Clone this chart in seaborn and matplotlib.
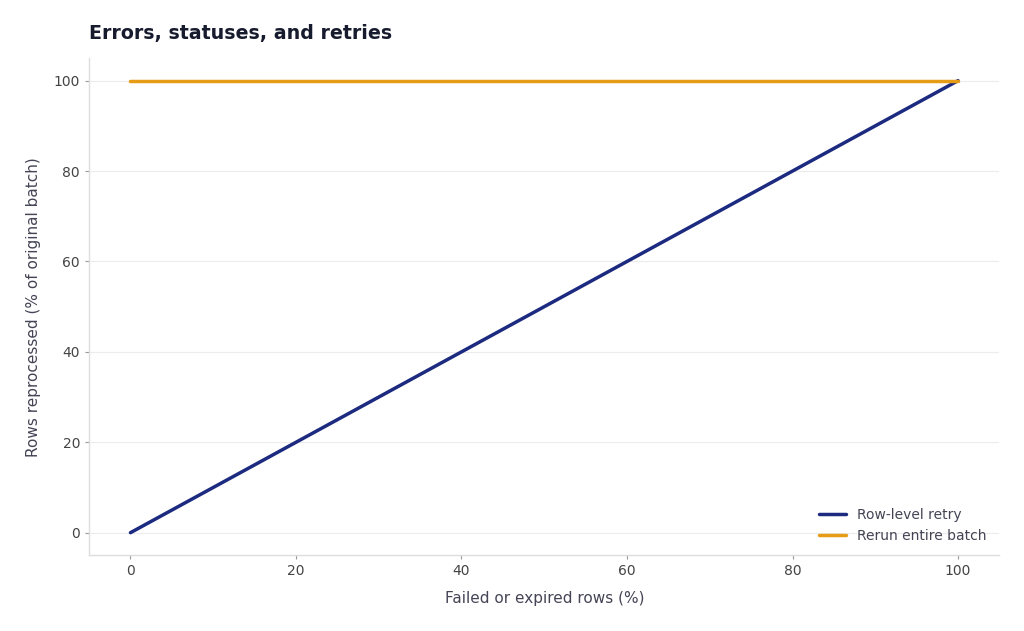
import matplotlib
matplotlib.use("Agg")
import matplotlib.pyplot as plt
import seaborn as sns
import pandas as pd

# data
failed_pct = [0, 25, 50, 75, 100]
row_level_retry = [0, 25, 50, 75, 100]
rerun_entire_batch = [100, 100, 100, 100, 100]
series_names = ["Row-level retry", "Rerun entire batch"]
series_colors = ["#1c2a80", "#e69c17"]

df = pd.DataFrame({
    "failed": failed_pct * 2,
    "reprocessed": row_level_retry + rerun_entire_batch,
    "strategy": [series_names[0]] * len(failed_pct) + [series_names[1]] * len(failed_pct),
})

sns.set_theme(style="whitegrid")
plt.rcParams["font.family"] = ["DejaVu Sans"]

fig, ax = plt.subplots(figsize=(10.24, 6.31), dpi=100)
fig.subplots_adjust(left=0.087, right=0.976, top=0.908, bottom=0.12)

sns.lineplot(data=df, x="failed", y="reprocessed", hue="strategy",
             palette=dict(zip(series_names, series_colors)),
             linewidth=2.5, ax=ax)

ax.set_xlim(-5, 105)
ax.set_ylim(-5, 105)
ax.set_xticks([0, 20, 40, 60, 80, 100])
ax.set_yticks([0, 20, 40, 60, 80, 100])
ax.grid(axis="x", visible=False)
ax.grid(axis="y", color="#ececec", linewidth=0.8)
for side in ["top", "right"]:
    ax.spines[side].set_visible(False)
for side in ["left", "bottom"]:
    ax.spines[side].set_color("#dddddd")
    ax.spines[side].set_linewidth(1.0)
ax.tick_params(axis="both", colors="#444444", labelsize=10, length=3,
               width=0.8, left=True, bottom=True)
ax.tick_params(axis="both", color="#999999")

ax.set_xlabel("Failed or expired rows (%)", fontsize=11, color="#444455", labelpad=9)
ax.set_ylabel("Rows reprocessed (% of original batch)", fontsize=11, color="#444455", labelpad=9)
ax.set_title("Errors, statuses, and retries", loc="left", fontsize=13.7,
             fontweight="bold", color="#161b2e", pad=14)

leg = ax.legend(loc="lower right", frameon=False, fontsize=10, title=None)
for t in leg.get_texts():
    t.set_color("#444455")

plt.savefig("out.png", dpi=100)
